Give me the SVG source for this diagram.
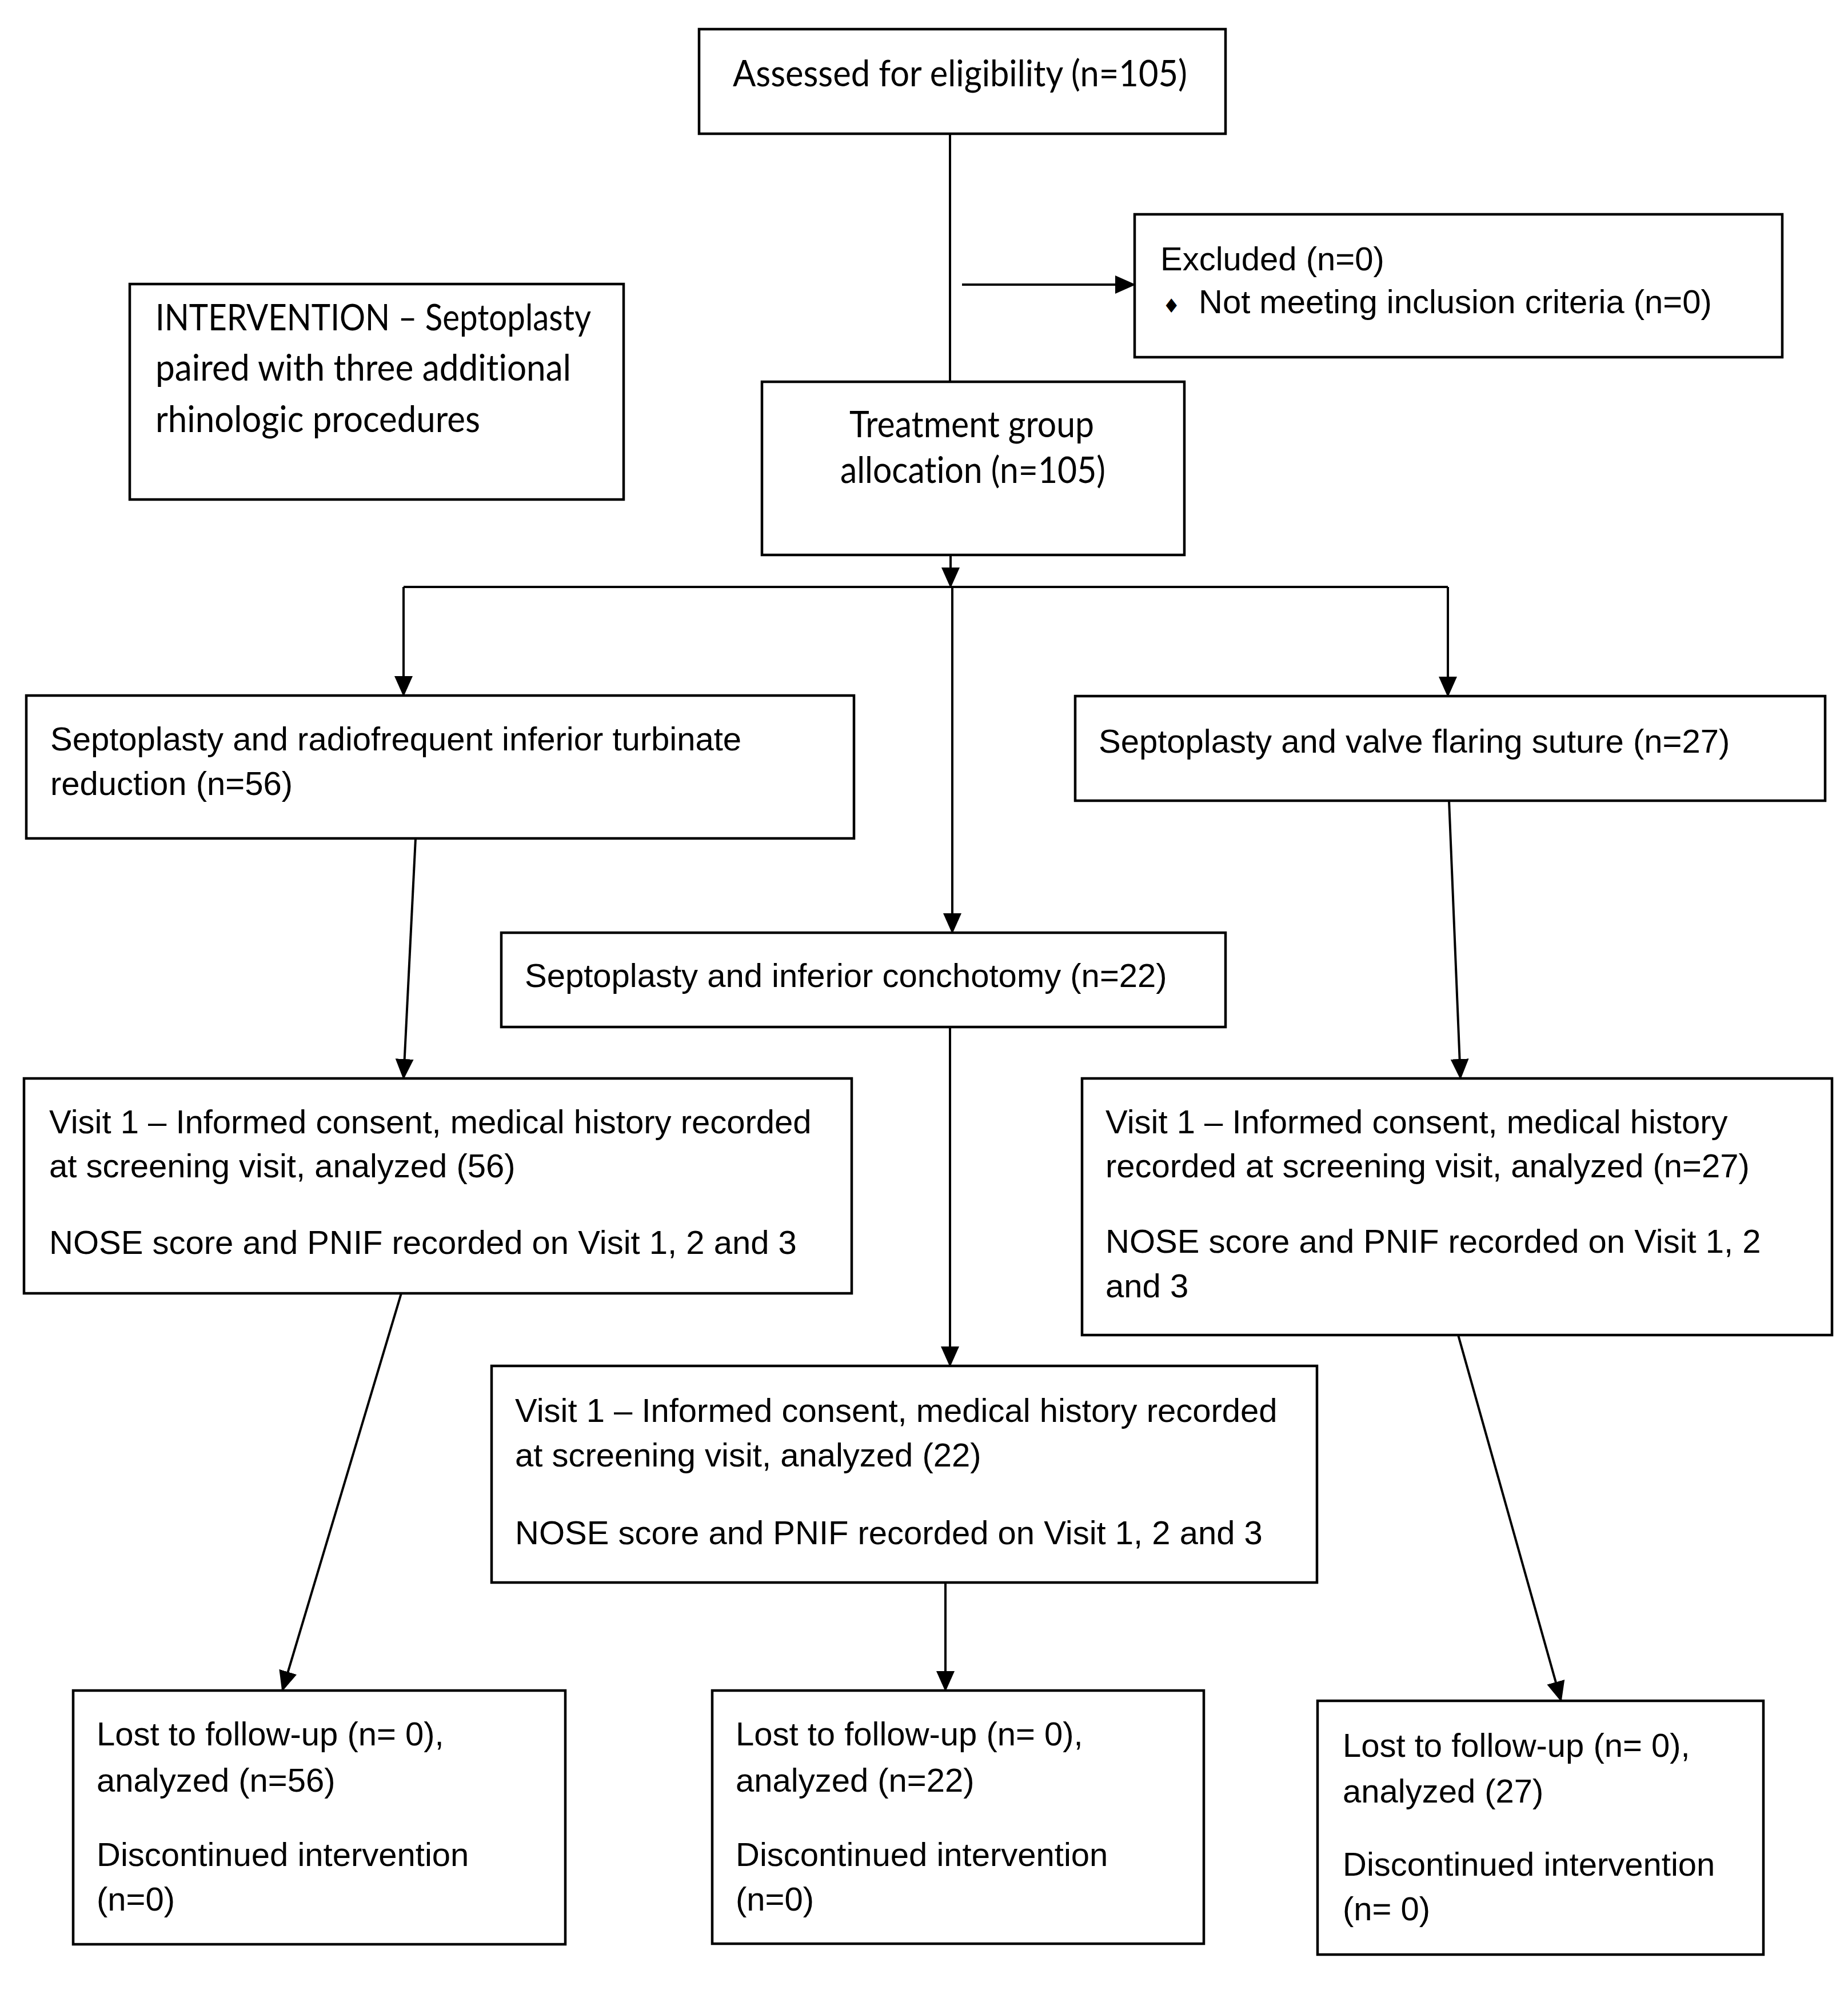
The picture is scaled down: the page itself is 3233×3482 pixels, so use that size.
<svg xmlns="http://www.w3.org/2000/svg" width="3233" height="3482" viewBox="0 0 3233 3482">
<style>
.box{fill:#fff;stroke:#000;stroke-width:4.5}
.con{fill:none;stroke:#000;stroke-width:4}
.a{font-family:"Liberation Sans",Arial,sans-serif;font-size:58px;fill:#000}
.c{font-family:Lato,"Open Sans",sans-serif;font-size:64px;fill:#000;font-variant-ligatures:none;font-feature-settings:"liga" 0}
.b{font-family:"DejaVu Sans",sans-serif;font-size:34px;fill:#000}
</style>
<defs>
<marker id="ah" markerUnits="userSpaceOnUse" markerWidth="36" markerHeight="36" viewBox="0 0 36 36" refX="34" refY="18" orient="auto">
<path d="M0,2 L36,18 L0,34 Z" fill="#000"/>
</marker>
</defs>
<rect width="3233" height="3482" fill="#fff"/>
<g id="connectors">
<path class="con" d="M1662,233 V668"/>
<path class="con" d="M1683,498 H1985" marker-end="url(#ah)"/>
<path class="con" d="M1663,971 V1027" marker-end="url(#ah)"/>
<path class="con" d="M706,1027 H2533"/>
<path class="con" d="M706,1027 V1217" marker-end="url(#ah)"/>
<path class="con" d="M2533,1027 V1218" marker-end="url(#ah)"/>
<path class="con" d="M1666,1027 V1632" marker-end="url(#ah)"/>
<path class="con" d="M1662,1797 V2390" marker-end="url(#ah)"/>
<path class="con" d="M727,1467 L706,1887" marker-end="url(#ah)"/>
<path class="con" d="M2535,1401 L2555,1887" marker-end="url(#ah)"/>
<path class="con" d="M702,2263 L494,2958" marker-end="url(#ah)"/>
<path class="con" d="M2551,2336 L2731,2976" marker-end="url(#ah)"/>
<path class="con" d="M1673,2769 H1654 V2958" marker-end="url(#ah)"/>
</g>
<g id="assessed">
<rect class="box" x="1223" y="51" width="921" height="183"/>
<text class="c" x="1282" y="151" textLength="795" lengthAdjust="spacingAndGlyphs">Assessed for eligibility (n=105)</text>
</g>
<g id="excluded">
<rect class="box" x="1985" y="375" width="1133" height="250"/>
<text class="a" x="2030" y="473">Excluded (n=0)</text>
<text class="b" x="2034" y="547">♦</text>
<text class="a" x="2097" y="548">Not meeting inclusion criteria (n=0)</text>
</g>
<g id="intervention">
<rect class="box" x="227" y="497" width="864" height="377"/>
<text class="c" x="272" y="578" textLength="762" lengthAdjust="spacingAndGlyphs">INTERVENTION – Septoplasty</text>
<text class="c" x="272" y="666" textLength="727" lengthAdjust="spacingAndGlyphs">paired with three additional</text>
<text class="c" x="272" y="756" textLength="568" lengthAdjust="spacingAndGlyphs">rhinologic procedures</text>
</g>
<g id="treatment">
<rect class="box" x="1333" y="668" width="739" height="303"/>
<text class="c" x="1486" y="765" textLength="428" lengthAdjust="spacingAndGlyphs">Treatment group</text>
<text class="c" x="1470" y="845" textLength="464" lengthAdjust="spacingAndGlyphs">allocation (n=105)</text>
</g>
<g id="sr">
<rect class="box" x="46" y="1217" width="1448" height="250"/>
<text class="a" x="88" y="1313">Septoplasty and radiofrequent inferior turbinate</text>
<text class="a" x="88" y="1391">reduction (n=56)</text>
</g>
<g id="valve">
<rect class="box" x="1881" y="1218" width="1312" height="183"/>
<text class="a" x="1922" y="1317">Septoplasty and valve flaring suture (n=27)</text>
</g>
<g id="conchotomy">
<rect class="box" x="877" y="1632" width="1267" height="165"/>
<text class="a" x="918" y="1727">Septoplasty and inferior conchotomy (n=22)</text>
</g>
<g id="visit-left">
<rect class="box" x="42" y="1887" width="1448" height="376"/>
<text class="a" x="86" y="1983">Visit 1 – Informed consent, medical history recorded</text>
<text class="a" x="86" y="2060">at screening visit, analyzed (56)</text>
<text class="a" x="86" y="2194">NOSE score and PNIF recorded on Visit 1, 2 and 3</text>
</g>
<g id="visit-right">
<rect class="box" x="1893" y="1887" width="1312" height="449"/>
<text class="a" x="1934" y="1983">Visit 1 – Informed consent, medical history</text>
<text class="a" x="1934" y="2060">recorded at screening visit, analyzed (n=27)</text>
<text class="a" x="1934" y="2192">NOSE score and PNIF recorded on Visit 1, 2</text>
<text class="a" x="1934" y="2270">and 3</text>
</g>
<g id="visit-center">
<rect class="box" x="860" y="2390" width="1444" height="379"/>
<text class="a" x="901" y="2488">Visit 1 – Informed consent, medical history recorded</text>
<text class="a" x="901" y="2566">at screening visit, analyzed (22)</text>
<text class="a" x="901" y="2702">NOSE score and PNIF recorded on Visit 1, 2 and 3</text>
</g>
<g id="lost-left">
<rect class="box" x="128" y="2958" width="861" height="444"/>
<text class="a" x="169" y="3054">Lost to follow-up (n= 0),</text>
<text class="a" x="169" y="3135">analyzed (n=56)</text>
<text class="a" x="169" y="3265">Discontinued intervention</text>
<text class="a" x="169" y="3343">(n=0)</text>
</g>
<g id="lost-center">
<rect class="box" x="1246" y="2958" width="860" height="443"/>
<text class="a" x="1287" y="3054">Lost to follow-up (n= 0),</text>
<text class="a" x="1287" y="3135">analyzed (n=22)</text>
<text class="a" x="1287" y="3265">Discontinued intervention</text>
<text class="a" x="1287" y="3343">(n=0)</text>
</g>
<g id="lost-right">
<rect class="box" x="2305" y="2976" width="780" height="444"/>
<text class="a" x="2349" y="3074">Lost to follow-up (n= 0),</text>
<text class="a" x="2349" y="3154">analyzed (27)</text>
<text class="a" x="2349" y="3282">Discontinued intervention</text>
<text class="a" x="2349" y="3360">(n= 0)</text>
</g>
</svg>
